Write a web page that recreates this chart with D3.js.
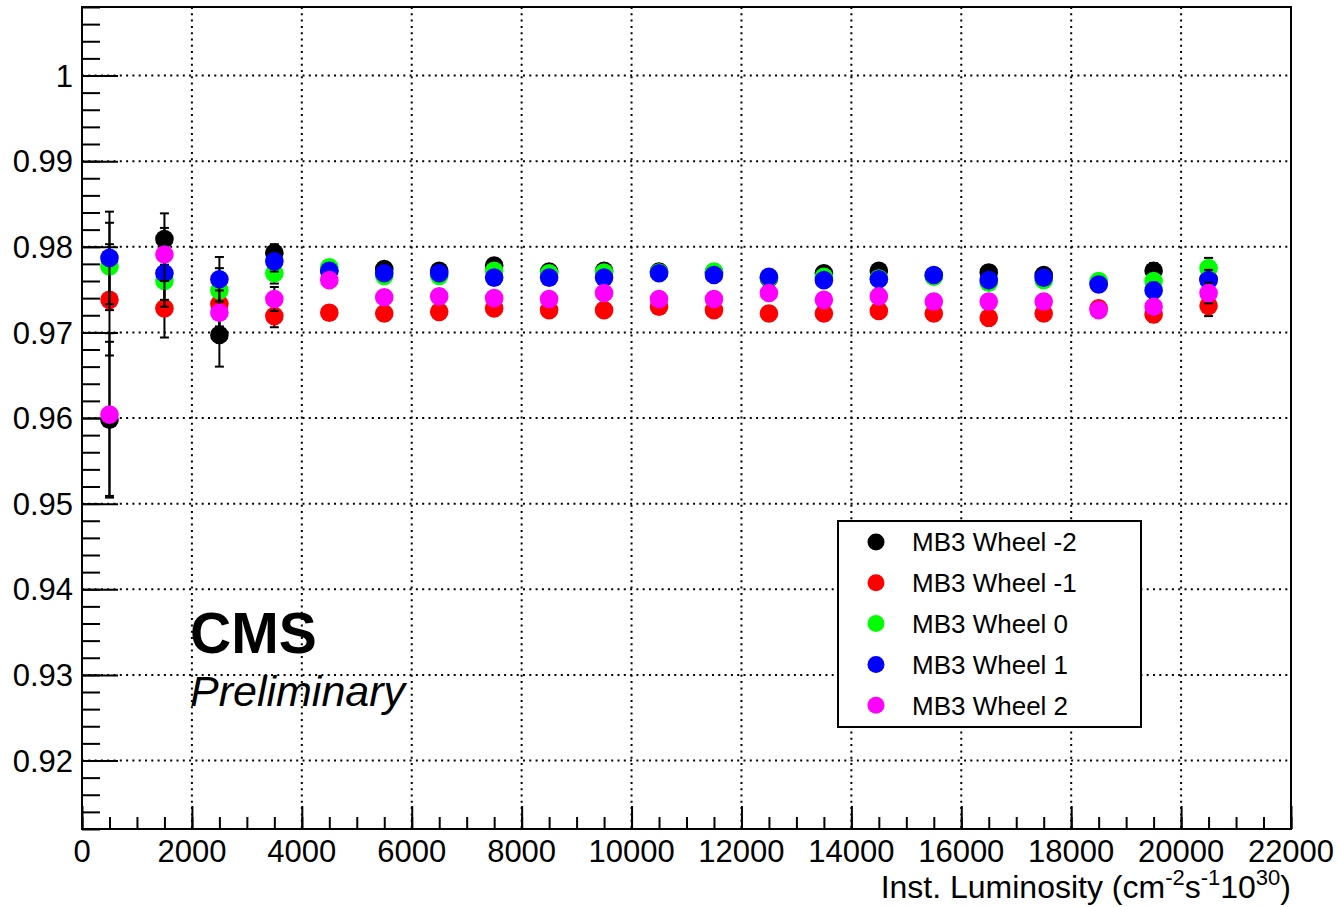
<!DOCTYPE html>
<html>
<head>
<meta charset="utf-8">
<script src="https://cdn.jsdelivr.net/npm/d3@7"></script>
<style>
  body { margin: 0; background: #fff; }
  text { font-family: "Liberation Sans", Arial, Helvetica, sans-serif; }
</style>
</head>
<body>
<svg id="chart" width="1338" height="907"></svg>
<script>
// luminosity bins (x)
var lumi = [500, 1500, 2500, 3500, 4500, 5500, 6500, 7500, 8500, 9500, 10500,
            11500, 12500, 13500, 14500, 15500, 16500, 17500, 18500, 19500, 20500];

// efficiency per wheel
var wheelM2 = [0.9598, 0.9809, 0.9697, 0.9793, 0.9772, 0.9774, 0.9772, 0.9778, 0.9771, 0.9772, 0.9771,
               0.9770, 0.9763, 0.9769, 0.9772, 0.9766, 0.9770, 0.9767, 0.9758, 0.9772, 0.9762];
var wheelM1 = [0.9738, 0.9728, 0.9733, 0.9719, 0.9723, 0.9722, 0.9724, 0.9728, 0.9726, 0.9726, 0.9730,
               0.9726, 0.9722, 0.9722, 0.9725, 0.9722, 0.9717, 0.9722, 0.9728, 0.9721, 0.9731];
var wheel0  = [0.9777, 0.9760, 0.9749, 0.9769, 0.9776, 0.9766, 0.9766, 0.9772, 0.9769, 0.9770, 0.9770,
               0.9771, 0.9764, 0.9765, 0.9763, 0.9765, 0.9758, 0.9761, 0.9760, 0.9760, 0.9775];
var wheelP1 = [0.9787, 0.9769, 0.9762, 0.9783, 0.9772, 0.9769, 0.9769, 0.9764, 0.9764, 0.9764, 0.9769,
               0.9767, 0.9765, 0.9761, 0.9762, 0.9767, 0.9761, 0.9764, 0.9756, 0.9749, 0.9761];
var wheelP2 = [0.9604, 0.9791, 0.9723, 0.9739, 0.9761, 0.9741, 0.9742, 0.9740, 0.9739, 0.9746, 0.9739,
               0.9739, 0.9746, 0.9738, 0.9742, 0.9736, 0.9736, 0.9736, 0.9726, 0.9730, 0.9746];

// errors (symmetric)
var errM2 = [0.0091, 0.0030, 0.0037, 0.0010, 0.0008, 0.0008, 0.0008, 0.0008, 0.0008, 0.0008, 0.0008,
             0.0008, 0.0008, 0.0008, 0.0008, 0.0008, 0.0008, 0.0008, 0.0008, 0.0009, 0.0012];
var errM1 = [0.0065, 0.0034, 0.0026, 0.0013, 0.0008, 0.0008, 0.0008, 0.0008, 0.0008, 0.0008, 0.0008,
             0.0008, 0.0008, 0.0008, 0.0008, 0.0008, 0.0008, 0.0008, 0.0008, 0.0009, 0.0012];
var err0  = [0.0051, 0.0030, 0.0026, 0.0012, 0.0008, 0.0008, 0.0008, 0.0008, 0.0008, 0.0008, 0.0008,
             0.0008, 0.0008, 0.0008, 0.0008, 0.0008, 0.0008, 0.0008, 0.0008, 0.0009, 0.0012];
var errP1 = [0.0054, 0.0031, 0.0026, 0.0012, 0.0008, 0.0008, 0.0008, 0.0008, 0.0008, 0.0008, 0.0008,
             0.0008, 0.0008, 0.0008, 0.0008, 0.0008, 0.0008, 0.0008, 0.0008, 0.0009, 0.0012];
var errP2 = [0.0095, 0.0031, 0.0026, 0.0014, 0.0008, 0.0008, 0.0008, 0.0008, 0.0008, 0.0008, 0.0008,
             0.0008, 0.0008, 0.0008, 0.0008, 0.0008, 0.0008, 0.0008, 0.0008, 0.0009, 0.0012];

var seriesNames = ["MB3 Wheel -2", "MB3 Wheel -1", "MB3 Wheel 0", "MB3 Wheel 1", "MB3 Wheel 2"];
var seriesColors = ["#000000", "#ff0000", "#00ff00", "#0000ff", "#ff00ff"];

var xTicks = [0, 2000, 4000, 6000, 8000, 10000, 12000, 14000, 16000, 18000, 20000, 22000];
var yTicks = [0.92, 0.93, 0.94, 0.95, 0.96, 0.97, 0.98, 0.99, 1];

var svg = d3.select("#chart");
var padL = 82, padR = 1291, padT = 7, padB = 829;

var x = d3.scaleLinear().domain([0, 22000]).range([padL, padR]);
var y = d3.scaleLinear().domain([0.912, 1.008]).range([padB, padT]);

// grid
svg.append("g").selectAll("line")
  .data(xTicks.slice(1, -1))
  .join("line")
  .attr("x1", d => x(d)).attr("x2", d => x(d))
  .attr("y1", padT).attr("y2", padB)
  .attr("stroke", "#000").attr("stroke-width", 2).attr("stroke-dasharray", "2,4.3");
svg.append("g").selectAll("line")
  .data(yTicks)
  .join("line")
  .attr("x1", padL).attr("x2", padR)
  .attr("y1", d => y(d)).attr("y2", d => y(d))
  .attr("stroke", "#000").attr("stroke-width", 2).attr("stroke-dasharray", "2,4.3");

// y axis: ticks inside the frame
var yMinor = d3.range(0, 49).map(i => 0.912 + i * 0.002).filter(v => v <= 1.0081);
svg.append("g").attr("transform", `translate(${padL},0)`)
  .call(d3.axisRight(y).tickValues(yMinor).tickSize(18).tickFormat(""))
  .call(g => g.select(".domain").remove())
  .selectAll("line").attr("stroke", "#000").attr("stroke-width", 2);
svg.append("g").attr("transform", `translate(${padL},0)`)
  .call(d3.axisRight(y).tickValues(yTicks).tickSize(36).tickFormat(""))
  .call(g => g.select(".domain").remove())
  .selectAll("line").attr("stroke", "#000").attr("stroke-width", 2);
svg.append("g").selectAll("text")
  .data(yTicks)
  .join("text")
  .attr("x", 73).attr("y", d => y(d)).attr("dy", "0.36em")
  .attr("text-anchor", "end").attr("font-size", 31)
  .text(d => d3.format("")(+d.toFixed(2)));

// x axis: ticks point up
var xMinor = d3.range(0, 45).map(i => i * 500);
svg.append("g").attr("transform", `translate(0,${padB})`)
  .call(d3.axisTop(x).tickValues(xMinor).tickSize(12).tickFormat(""))
  .call(g => g.select(".domain").remove())
  .selectAll("line").attr("stroke", "#000").attr("stroke-width", 2);
svg.append("g").attr("transform", `translate(0,${padB})`)
  .call(d3.axisTop(x).tickValues(xTicks).tickSize(23).tickFormat(""))
  .call(g => g.select(".domain").remove())
  .selectAll("line").attr("stroke", "#000").attr("stroke-width", 2);
svg.append("g").selectAll("text")
  .data(xTicks)
  .join("text")
  .attr("x", d => x(d)).attr("y", 862)
  .attr("text-anchor", "middle").attr("font-size", 31)
  .text(d => d);

// frame
svg.append("rect")
  .attr("x", padL).attr("y", padT)
  .attr("width", padR - padL).attr("height", padB - padT)
  .attr("fill", "none").attr("stroke", "#000").attr("stroke-width", 2);

// axis title with superscripts
var title = svg.append("text")
  .attr("x", padR).attr("y", 898)
  .attr("text-anchor", "end").attr("font-size", 32);
title.append("tspan").text("Inst. Luminosity (cm");
title.append("tspan").attr("font-size", 22).attr("dy", -13).text("-2");
title.append("tspan").attr("dy", 13).text("s");
title.append("tspan").attr("font-size", 22).attr("dy", -13).text("-1");
title.append("tspan").attr("dy", 13).text("10");
title.append("tspan").attr("font-size", 22).attr("dy", -13).text("30");
title.append("tspan").attr("dy", 13).text(")");

// data series, drawn in order so wheel 2 sits on top
var values = [wheelM2, wheelM1, wheel0, wheelP1, wheelP2];
var errors = [errM2, errM1, err0, errP1, errP2];

values.forEach(function (vals, s) {
  var pts = lumi.map((l, i) => ({ x: l, v: vals[i], e: errors[s][i] }));
  var g = svg.append("g");
  // error bars
  g.selectAll("line.bar")
    .data(pts)
    .join("line")
    .attr("class", "bar")
    .attr("x1", d => x(d.x)).attr("x2", d => x(d.x))
    .attr("y1", d => y(d.v + d.e)).attr("y2", d => y(d.v - d.e))
    .attr("stroke", "#000").attr("stroke-width", 2);
  g.selectAll("line.capHi")
    .data(pts)
    .join("line")
    .attr("class", "capHi")
    .attr("x1", d => x(d.x) - 4.5).attr("x2", d => x(d.x) + 4.5)
    .attr("y1", d => y(d.v + d.e)).attr("y2", d => y(d.v + d.e))
    .attr("stroke", "#000").attr("stroke-width", 2);
  g.selectAll("line.capLo")
    .data(pts)
    .join("line")
    .attr("class", "capLo")
    .attr("x1", d => x(d.x) - 4.5).attr("x2", d => x(d.x) + 4.5)
    .attr("y1", d => y(d.v - d.e)).attr("y2", d => y(d.v - d.e))
    .attr("stroke", "#000").attr("stroke-width", 2);
  // markers
  g.selectAll("circle")
    .data(pts)
    .join("circle")
    .attr("cx", d => x(d.x)).attr("cy", d => y(d.v))
    .attr("r", 9.3)
    .attr("fill", seriesColors[s]);
});

// CMS label
svg.append("text").attr("x", 190).attr("y", 653)
  .attr("font-size", 57).attr("font-weight", "bold").text("CMS");
svg.append("text").attr("x", 190).attr("y", 706)
  .attr("font-size", 43).attr("font-style", "italic").text("Preliminary");

// legend
var legend = svg.append("g");
legend.append("rect")
  .attr("x", 838).attr("y", 521).attr("width", 303).attr("height", 206)
  .attr("fill", "#fff").attr("stroke", "#000").attr("stroke-width", 2);
seriesNames.forEach(function (name, i) {
  var ly = 542 + i * 40.8;
  legend.append("circle").attr("cx", 876).attr("cy", ly).attr("r", 8.5).attr("fill", seriesColors[i]);
  legend.append("text").attr("x", 912).attr("y", ly).attr("dy", "0.36em")
    .attr("font-size", 26).text(name);
});
</script>
</body>
</html>
